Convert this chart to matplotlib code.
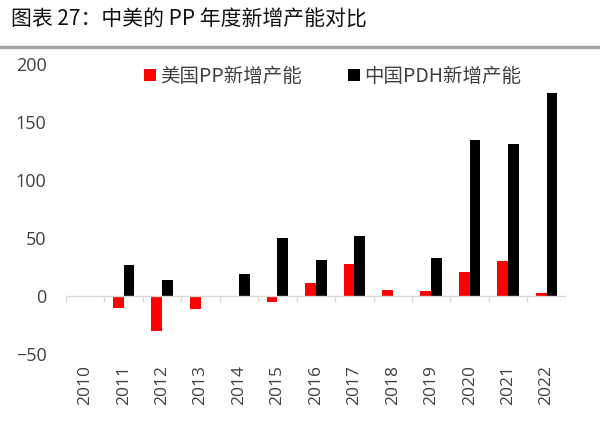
import numpy as np
import matplotlib.pyplot as plt
from matplotlib.lines import Line2D

plt.rcParams['font.family'] = ['Open Sans', 'Noto Sans CJK SC', 'DejaVu Sans']

years = ['2010', '2011', '2012', '2013', '2014', '2015', '2016',
         '2017', '2018', '2019', '2020', '2021', '2022']
us_pp = [0, -10, -30, -11, 0, -5, 11, 28, 5, 4, 21, 30, 3]
cn_pdh = [0, 27, 14, 0, 19, 50, 31, 52, 0, 33, 135, 131, 175]

fig = plt.figure(figsize=(6, 4.25), dpi=100)
ax = fig.add_axes([0.11, 0.167, 0.833, 0.682])

x = np.arange(len(years))
w = 0.28
ax.bar(x - w / 2, us_pp, w, color='#ff0000', label='美国PP新增产能')
ax.bar(x + w / 2, cn_pdh, w, color='#000000', label='中国PDH新增产能')

# zero line with small tick marks between categories
ax.axhline(0, color='#d9d9d9', lw=1)
ax.vlines(np.arange(len(years) + 1) - 0.5, -5.5, 0, color='#d9d9d9', lw=1)

ax.set_xlim(-0.5, len(years) - 0.5)
ax.set_ylim(-50, 200)
ax.set_yticks([-50, 0, 50, 100, 150, 200])
ax.set_xticks(x)
ax.set_xticklabels(years, rotation=90, fontsize=12.5, color='#404040')
ax.tick_params(axis='y', length=0, pad=14, labelsize=13, labelcolor='#404040')
ax.tick_params(axis='x', length=0, pad=8)
for s in ax.spines.values():
    s.set_visible(False)

ax.legend(loc='upper center', bbox_to_anchor=(0.533, 1.055), ncol=2, frameon=False,
          prop={'family': ['Noto Sans CJK SC'], 'size': 14}, labelcolor='#404040',
          handlelength=0.62, handleheight=0.62, handletextpad=0.2, columnspacing=2.4)

fig.text(0.018, 0.953, '图表 27：中美的 PP 年度新增产能对比', fontsize=15,
         family=['Noto Sans CJK SC', 'DejaVu Sans'], va='center', ha='left', color='#111111')
fig.add_artist(Line2D([0, 1], [0.889, 0.889], transform=fig.transFigure,
                      color='#a6a6a6', lw=2.5))

fig.savefig('out.png', dpi=100)
